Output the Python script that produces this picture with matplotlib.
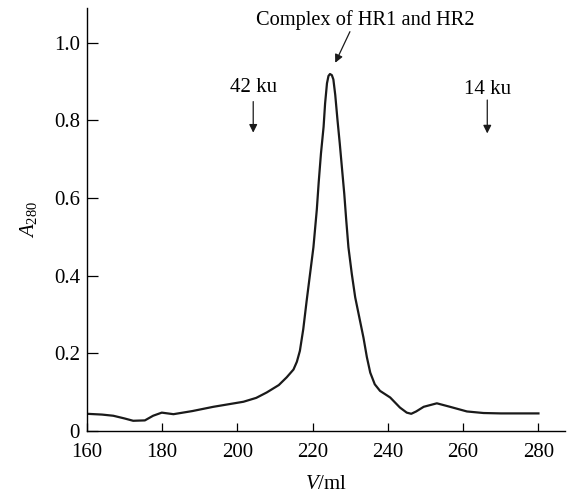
"""Gel-filtration elution profile of the HR1/HR2 complex (A280 vs elution volume)."""
import matplotlib.pyplot as plt

plt.rcParams["font.family"] = "Liberation Serif"
plt.rcParams["mathtext.fontset"] = "custom"
plt.rcParams["mathtext.rm"] = "Liberation Serif"
plt.rcParams["mathtext.it"] = "Liberation Serif:italic"

# elution volume (ml) and absorbance
volume = [160, 164, 167, 170, 172.3, 175.4, 177.6, 179.9, 183, 188, 193.6,
          201.6, 205, 207.8, 211, 213.1, 214.9, 215.8, 216.6, 217.5, 218.4,
          219.3, 220.2, 221.1, 221.6, 222.2, 222.9, 223.3, 223.8, 224.2,
          224.6, 225.1, 225.5, 226.0, 226.6, 227.2, 227.8, 228.4, 228.9,
          229.5, 230.4, 231.3, 232.4, 233.5, 234.4, 235.3, 236.5, 237.9,
          240.6, 243.2, 245.0, 246.2, 247.5, 249.5, 253, 256.5, 261, 265.4,
          270, 280]
a280 = [0.044, 0.042, 0.039, 0.032, 0.026, 0.027, 0.039, 0.047, 0.043,
        0.051, 0.062, 0.075, 0.085, 0.099, 0.118, 0.138, 0.158, 0.178,
        0.206, 0.262, 0.335, 0.404, 0.473, 0.570, 0.640, 0.714, 0.783,
        0.843, 0.895, 0.914, 0.919, 0.916, 0.905, 0.865, 0.800, 0.740,
        0.675, 0.610, 0.545, 0.473, 0.404, 0.344, 0.292, 0.240, 0.190,
        0.150, 0.120, 0.103, 0.086, 0.060, 0.047, 0.044, 0.050, 0.062,
        0.071, 0.062, 0.050, 0.046, 0.045, 0.045]

x_ticks = [160, 180, 200, 220, 240, 260, 280]
y_ticks = [0, 0.2, 0.4, 0.6, 0.8, 1.0]
y_ticklabels = ["0", "0.2", "0.4", "0.6", "0.8", "1.0"]

# marker annotations: (label, volume, text height, arrow top, arrow tip)
markers = [("42 ku", 204.2, 0.885, 0.848, 0.768),
           ("14 ku", 266.4, 0.879, 0.852, 0.766)]
peak_label = "Complex of HR1 and HR2"
peak_text_xy = (233.9, 1.058)
peak_arrow_tail = (229.9, 1.028)
peak_arrow_tip = (226.0, 0.948)

fig = plt.figure(figsize=(5.68, 4.93), dpi=100)
ax = fig.add_axes([0.153, 0.126, 0.842, 0.857])

ax.plot(volume, a280, color="#1a1a1a", lw=1.6, solid_joinstyle="round")

ax.set_xlim(160, 287.1)
ax.set_ylim(0, 1.088)
ax.set_xticks(x_ticks)
ax.set_yticks(y_ticks)
ax.set_yticklabels(y_ticklabels)
for side in ("top", "right"):
    ax.spines[side].set_visible(False)
for side in ("left", "bottom"):
    ax.spines[side].set_linewidth(1.0)
ax.tick_params(axis="y", direction="in", length=8, width=0.9,
               labelsize=15, pad=5)
ax.tick_params(axis="x", direction="in", length=6, width=0.9,
               labelsize=15, pad=9)
# the "0" sits a little above the axis line in the original
ax.get_yticklabels()[0].set_y(0.012)

ax.set_xlabel(r"$\mathit{V}$/ml", fontsize=15, labelpad=9)
ax.set_ylabel(r"$\mathit{A}_{\mathrm{280}}$", fontsize=15, labelpad=11)

arrow_kw = dict(arrowstyle="-|>", color="#1a1a1a", lw=0.9,
                mutation_scale=12, shrinkA=0, shrinkB=0)
for label, v, ty, top, tip in markers:
    ax.text(v, ty, label, fontsize=15, ha="center", va="center")
    ax.annotate("", xy=(v, tip), xytext=(v, top), arrowprops=arrow_kw)

ax.text(*peak_text_xy, peak_label, fontsize=14.7, ha="center", va="center",
        clip_on=False)
ax.annotate("", xy=peak_arrow_tip, xytext=peak_arrow_tail,
            arrowprops=arrow_kw, annotation_clip=False)

fig.savefig("out.png", dpi=100)
